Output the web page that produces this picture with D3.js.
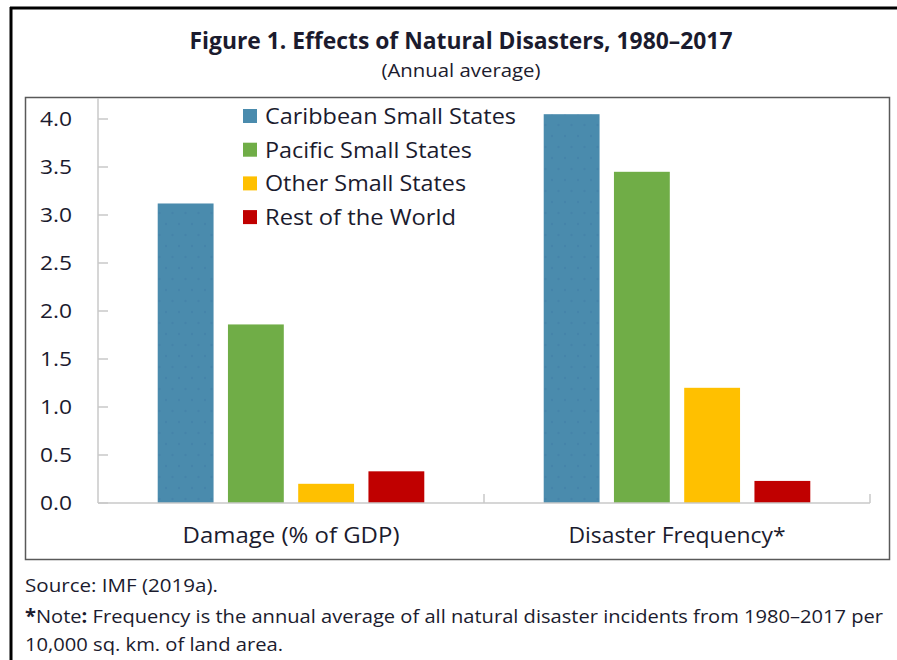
<!DOCTYPE html>
<html>
<head>
<meta charset="utf-8">
<script src="https://cdn.jsdelivr.net/npm/d3@7"></script>
<style>
  html, body { margin: 0; padding: 0; background: #fff; }
  svg { display: block; }
  text { font-family: "Open Sans", "Noto Sans", sans-serif; fill: #1b1b2e; }
</style>
</head>
<body>
<svg id="chart" width="897" height="660"></svg>
<script>
// ---- data ----
const categories = ["Damage (% of GDP)", "Disaster Frequency*"];
const seriesNames = ["Caribbean Small States", "Pacific Small States", "Other Small States", "Rest of the World"];
const caribbean = [3.12, 4.05];
const pacific = [1.86, 3.45];
const otherSmall = [0.20, 1.20];
const restWorld = [0.33, 0.23];
const yTicks = [0, 0.5, 1.0, 1.5, 2.0, 2.5, 3.0, 3.5, 4.0];
const seriesColors = ["#4a8bad", "#70ad47", "#ffc000", "#c00000"];

const seriesValues = [caribbean, pacific, otherSmall, restWorld];

const svg = d3.select("#chart");

// pattern for blue bars (subtle dots)
const defs = svg.append("defs");
const pat = defs.append("pattern").attr("id", "dots").attr("patternUnits", "userSpaceOnUse")
  .attr("width", 13).attr("height", 22);
pat.append("rect").attr("width", 13).attr("height", 22).attr("fill", seriesColors[0]);
pat.append("circle").attr("cx", 3).attr("cy", 4).attr("r", 1.2).attr("fill", "#4584aa");
pat.append("circle").attr("cx", 9.5).attr("cy", 15).attr("r", 1.2).attr("fill", "#4584aa");

// outer frame
svg.append("line").attr("x1", 11).attr("x2", 11).attr("y1", 7).attr("y2", 660)
  .attr("stroke", "#000").attr("stroke-width", 3);
svg.append("line").attr("x1", 10).attr("x2", 897).attr("y1", 8).attr("y2", 8)
  .attr("stroke", "#000").attr("stroke-width", 3);

// inner chart box
svg.append("rect").attr("x", 25.5).attr("y", 97.5).attr("width", 864).attr("height", 462)
  .attr("fill", "none").attr("stroke", "#595959").attr("stroke-width", 1.5);

// title
svg.append("text").attr("x", 461).attr("y", 49).attr("text-anchor", "middle")
  .attr("font-size", 24).attr("font-weight", 700)
  .attr("textLength", 543).attr("lengthAdjust", "spacingAndGlyphs")
  .text("Figure 1. Effects of Natural Disasters, 1980–2017");
svg.append("text").attr("x", 461).attr("y", 77).attr("text-anchor", "middle")
  .attr("font-size", 19)
  .attr("textLength", 159).attr("lengthAdjust", "spacingAndGlyphs")
  .text("(Annual average)");

// scales
const y = d3.scaleLinear().domain([0, 4]).range([503, 119]);
const x0 = d3.scaleBand().domain(categories).range([98, 870]).padding(0);
const x1 = d3.scaleBand().domain(seriesNames).range([0, x0.bandwidth()])
  .paddingInner(0.205).paddingOuter(0.85);

// y axis
const yAxisG = svg.append("g").attr("transform", "translate(98,0)");
yAxisG.append("line").attr("x1", 0).attr("x2", 0).attr("y1", 98).attr("y2", 503)
  .attr("stroke", "#c8c8c8").attr("stroke-width", 1.5);
yAxisG.selectAll(".yt").data(yTicks).join("line")
  .attr("x1", 0).attr("x2", 10).attr("y1", d => y(d)).attr("y2", d => y(d))
  .attr("stroke", "#c8c8c8").attr("stroke-width", 1.5);
svg.selectAll(".ylab").data(yTicks).join("text")
  .attr("x", 72).attr("y", d => y(d)).attr("dy", "0.36em")
  .attr("text-anchor", "end").attr("font-size", 20.5)
  .attr("textLength", 32).attr("lengthAdjust", "spacingAndGlyphs")
  .text(d => d3.format(".1f")(d));

// bars
const groups = svg.selectAll(".grp").data(categories).join("g")
  .attr("transform", d => `translate(${x0(d)},0)`);
groups.selectAll("rect").data((c, ci) => seriesNames.map((s, si) => ({ s, si, v: seriesValues[si][ci] })))
  .join("rect")
  .attr("x", d => x1(d.s))
  .attr("width", x1.bandwidth())
  .attr("y", d => y(d.v))
  .attr("height", d => y(0) - y(d.v))
  .attr("fill", d => d.si === 0 ? "url(#dots)" : seriesColors[d.si]);

// x axis
svg.append("line").attr("x1", 98).attr("x2", 870).attr("y1", 503).attr("y2", 503)
  .attr("stroke", "#c8c8c8").attr("stroke-width", 1.5);
const xb = categories.map(c => x0(c) + x0.bandwidth());
svg.selectAll(".xt").data(xb).join("line")
  .attr("x1", d => d).attr("x2", d => d).attr("y1", 503).attr("y2", 494)
  .attr("stroke", "#c8c8c8").attr("stroke-width", 1.5);
svg.selectAll(".xlab").data(categories).join("text")
  .attr("x", d => x0(d) + x0.bandwidth() / 2).attr("y", 543)
  .attr("text-anchor", "middle").attr("font-size", 21)
  .attr("textLength", 217).attr("lengthAdjust", "spacingAndGlyphs")
  .text(d => d);

// legend
const legendWidths = [251, 207, 201, 191];
const lg = svg.selectAll(".lg").data(seriesNames).join("g")
  .attr("transform", (d, i) => `translate(243,${116 + i * 33.7})`);
lg.append("rect").attr("x", 0).attr("y", -7).attr("width", 14).attr("height", 14)
  .attr("fill", (d, i) => seriesColors[i]);
lg.append("text").attr("x", 22).attr("y", 0).attr("dy", "0.36em")
  .attr("font-size", 22)
  .attr("textLength", (d, i) => legendWidths[i]).attr("lengthAdjust", "spacingAndGlyphs")
  .text(d => d);

// footer
svg.append("text").attr("x", 25).attr("y", 592).attr("font-size", 19)
  .attr("textLength", 193).attr("lengthAdjust", "spacingAndGlyphs")
  .text("Source: IMF (2019a).");
const note = svg.append("text").attr("x", 25).attr("y", 623).attr("font-size", 19)
  .attr("textLength", 858).attr("lengthAdjust", "spacingAndGlyphs");
note.append("tspan").attr("font-weight", 700).text("*");
note.append("tspan").text("Note");
note.append("tspan").attr("font-weight", 700).text(":");
note.append("tspan").text(" Frequency is the annual average of all natural disaster incidents from 1980–2017 per");
svg.append("text").attr("x", 25).attr("y", 651).attr("font-size", 19)
  .attr("textLength", 258).attr("lengthAdjust", "spacingAndGlyphs")
  .text("10,000 sq. km. of land area.");
</script>
</body>
</html>
